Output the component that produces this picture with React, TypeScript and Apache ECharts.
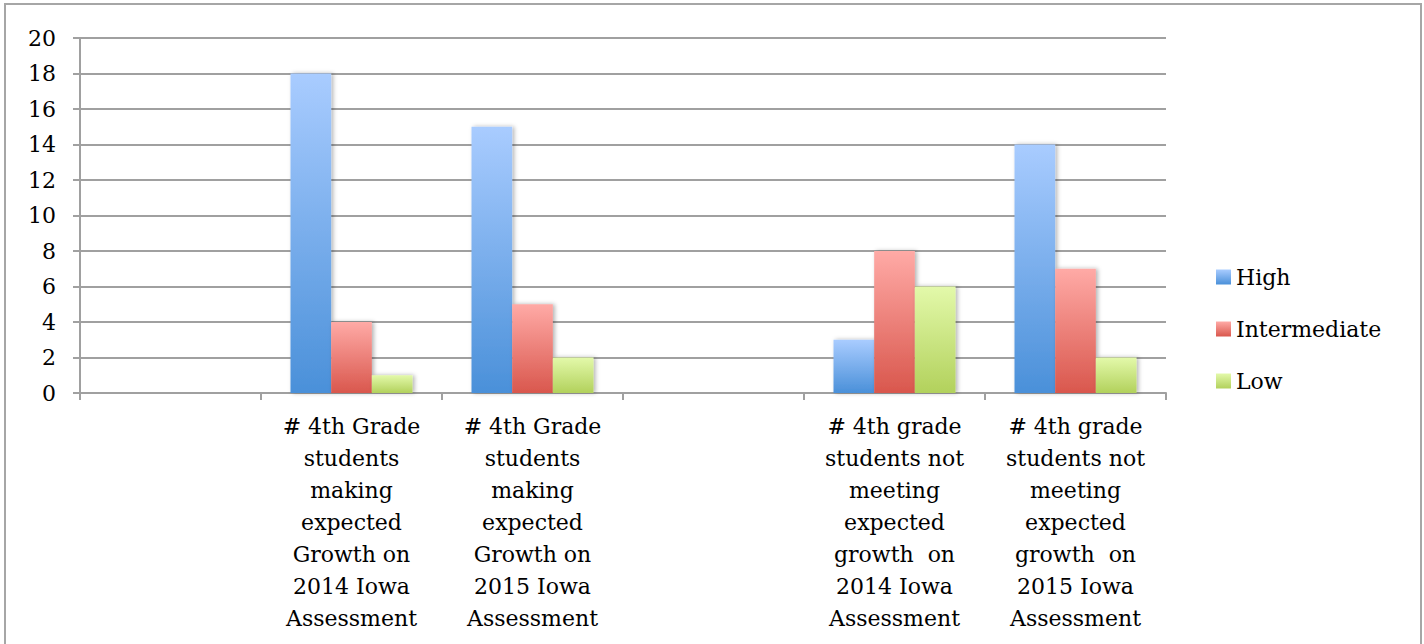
import React, { useEffect, useRef } from "react";
import * as echarts from "echarts";

const categories = [
  "",
  "# 4th Grade\nstudents\nmaking\nexpected\nGrowth on\n2014 Iowa\nAssessment",
  "# 4th Grade\nstudents\nmaking\nexpected\nGrowth on\n2015 Iowa\nAssessment",
  "",
  "# 4th grade\nstudents not\nmeeting\nexpected\ngrowth  on\n2014 Iowa\nAssessment",
  "# 4th grade\nstudents not\nmeeting\nexpected\ngrowth  on\n2015 Iowa\nAssessment",
];
const highValues: (number | string)[] = ["-", 18, 15, "-", 3, 14];
const intermediateValues: (number | string)[] = ["-", 4, 5, "-", 8, 7];
const lowValues: (number | string)[] = ["-", 1, 2, "-", 6, 2];
const yTicks = { min: 0, max: 20, interval: 2 };

const FONT = "DejaVu Serif";

function grad(top: string, bottom: string) {
  return new echarts.graphic.LinearGradient(0, 0, 0, 1, [
    { offset: 0, color: top },
    { offset: 1, color: bottom },
  ]);
}

export default function App() {
  const ref = useRef<HTMLDivElement>(null);
  useEffect(() => {
    if (!ref.current) return;
    const chart = echarts.init(ref.current, null, { renderer: "svg" });
    const barStyle = (top: string, bottom: string) => ({
      color: grad(top, bottom),
      shadowBlur: 4,
      shadowColor: "rgba(0,0,0,0.3)",
      shadowOffsetX: 2,
      shadowOffsetY: 0,
    });
    chart.setOption({
      animation: false,
      backgroundColor: "#ffffff",
      graphic: [
        {
          type: "rect",
          shape: { x: 5, y: 4, width: 1416, height: 700 },
          style: { fill: "none", stroke: "#a6a6a6", lineWidth: 2 },
          silent: true,
        },
      ],
      grid: { left: 80, right: 258, top: 38, bottom: 251, containLabel: false },
      legend: {
        orient: "vertical",
        left: 1211,
        top: 261,
        itemWidth: 15,
        itemHeight: 15,
        itemGap: 30,
        icon: "rect",
        textStyle: { fontFamily: FONT, fontSize: 22, color: "#000", padding: [0, 0, 0, 0] },
        data: [
          { name: "High", itemStyle: { color: grad("#a9ccff", "#4a90d9") } },
          { name: "Intermediate", itemStyle: { color: grad("#ffaaa6", "#d9574d") } },
          { name: "Low", itemStyle: { color: grad("#e3f9aa", "#b2d15c") } },
        ],
      },
      xAxis: {
        type: "category",
        data: categories,
        axisLine: { show: true, lineStyle: { color: "#a0a0a0", width: 2 } },
        axisTick: { show: true, length: 7, alignWithLabel: false, lineStyle: { color: "#a0a0a0", width: 2 } },
        axisLabel: {
          interval: 0,
          fontFamily: FONT,
          fontSize: 22,
          color: "#000",
          lineHeight: 32,
          margin: 17,
          align: "center",
        },
        splitLine: { show: false },
      },
      yAxis: {
        type: "value",
        min: yTicks.min,
        max: yTicks.max,
        interval: yTicks.interval,
        axisLine: { show: true, lineStyle: { color: "#a0a0a0", width: 2 } },
        axisTick: { show: true, length: 7, lineStyle: { color: "#a0a0a0", width: 2 } },
        axisLabel: { fontFamily: FONT, fontSize: 22, color: "#000", margin: 24 },
        splitLine: { show: true, lineStyle: { color: "#a0a0a0", width: 2 } },
      },
      series: [
        {
          name: "High",
          type: "bar",
          data: highValues,
          barGap: "0%",
          barCategoryGap: "32.6%",
          itemStyle: barStyle("#a9ccff", "#4a90d9"),
        },
        {
          name: "Intermediate",
          type: "bar",
          data: intermediateValues,
          barGap: "0%",
          barCategoryGap: "32.6%",
          itemStyle: barStyle("#ffaaa6", "#d9574d"),
        },
        {
          name: "Low",
          type: "bar",
          data: lowValues,
          barGap: "0%",
          barCategoryGap: "32.6%",
          itemStyle: barStyle("#e3f9aa", "#b2d15c"),
        },
      ],
    });
    return () => chart.dispose();
  }, []);
  return (
    <div
      ref={ref}
      style={{ position: "fixed", left: 0, top: 0, width: 1424, height: 644 }}
    />
  );
}
